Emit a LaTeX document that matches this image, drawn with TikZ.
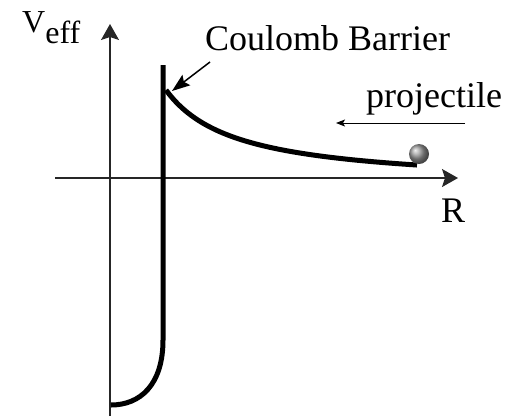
\documentclass[tikz,border=0pt]{standalone}
\usepackage{fontspec}
\setmainfont{Liberation Serif}
\usetikzlibrary{positioning, calc, arrows.meta}

\begin{document}
\begin{tikzpicture}[x=1pt, y=-1pt,
    axis/.style={line width=1.4pt, draw=black!85, -{Stealth[length=16pt, width=18pt, inset=3pt]}},
    potential/.style={line width=5pt},
    pointer/.style={line width=1.5pt, -{Stealth[length=18pt, width=13pt, inset=3pt]}},
    label/.style={font=\fontsize{36}{40}\selectfont, inner sep=0pt, anchor=base west}]

    \useasboundingbox (0,0) rectangle (518,416);

    % Axes
    \coordinate (xleft) at (55,178);
    \coordinate (xright) at (458,178);
    \coordinate (ybot) at (110,416);
    \coordinate (ytop) at (110,24);
    \draw[axis] (xleft) -- (xright);
    \draw[axis] (ybot) -- (ytop);

    % Axis labels
    \node[label, font=\fontsize{32}{36}\selectfont] (veff) at (22,32) {V\raisebox{-11pt}{eff}};
    \node[label] (rlabel) at (441,222) {R};

    % Nuclear wall and well
    \coordinate (walltop) at (163,65);
    \coordinate (wallbend) at (163,340);
    \coordinate (wellbot) at (111,405);
    \draw[potential] (walltop) -- (wallbend)
        .. controls (163,385) and (140,405) .. (wellbot);

    % Coulomb tail
    \draw[potential, domain=166:417, samples=80, smooth]
        plot (\x, {178 - 6703/(\x-96.1) + 7.9});

    % Coulomb Barrier label and pointer
    \node[label] (barrier) at (205,50) {Coulomb Barrier};
    \coordinate (ptrstart) at (210,62);
    \coordinate (peak) at (172,91);
    \draw[pointer] (ptrstart) -- (peak);

    % Projectile and its direction
    \node[label] (proj) at (366,107) {projectile};
    \coordinate (dirstart) at (465,123);
    \coordinate (dirend) at (336,123);
    \draw[line width=1pt, -{Stealth[length=9pt, width=7pt, inset=2pt]}] (dirstart) -- (dirend);
    \shade[ball color=gray!80] (419,154) circle (10);

\end{tikzpicture}
\end{document}
